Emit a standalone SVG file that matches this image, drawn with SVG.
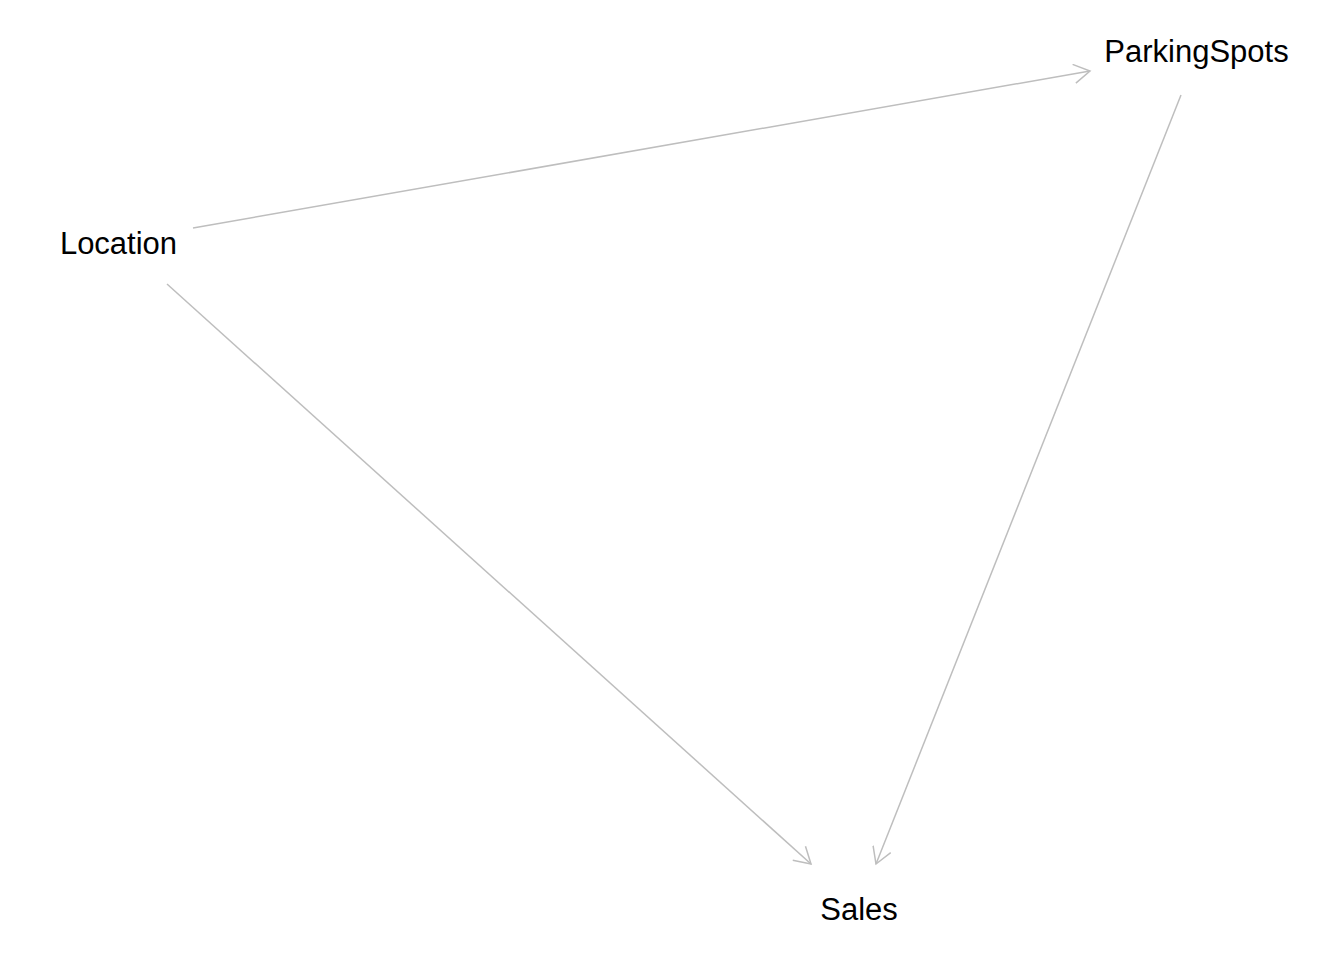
<svg xmlns="http://www.w3.org/2000/svg" width="1344" height="960" viewBox="0 0 1344 960">
<style>
.lbl{font-family:"Liberation Sans",Arial,sans-serif;font-size:31px;fill:#000;text-anchor:middle}
.edge{stroke:#bebebe;stroke-width:1.5;fill:none;marker-end:url(#arr)}
</style>
<defs>
<marker id="arr" markerWidth="20" markerHeight="20" refX="18" refY="10" orient="auto" markerUnits="userSpaceOnUse">
<path d="M2,0.5 L18,10 L2,19.5" fill="none" stroke="#bebebe" stroke-width="1.5"/>
</marker>
</defs>
<rect width="1344" height="960" fill="#fff"/>
<g id="connectors">
<line class="edge" x1="193" y1="228" x2="1090" y2="71"/>
<line class="edge" x1="167" y1="284" x2="811" y2="864"/>
<line class="edge" x1="1181" y1="95" x2="876" y2="864"/>
</g>
<g id="Location"><text class="lbl" x="118.5" y="254">Location</text></g>
<g id="ParkingSpots"><text class="lbl" x="1196.5" y="62">ParkingSpots</text></g>
<g id="Sales"><text class="lbl" x="859" y="920">Sales</text></g>
</svg>
